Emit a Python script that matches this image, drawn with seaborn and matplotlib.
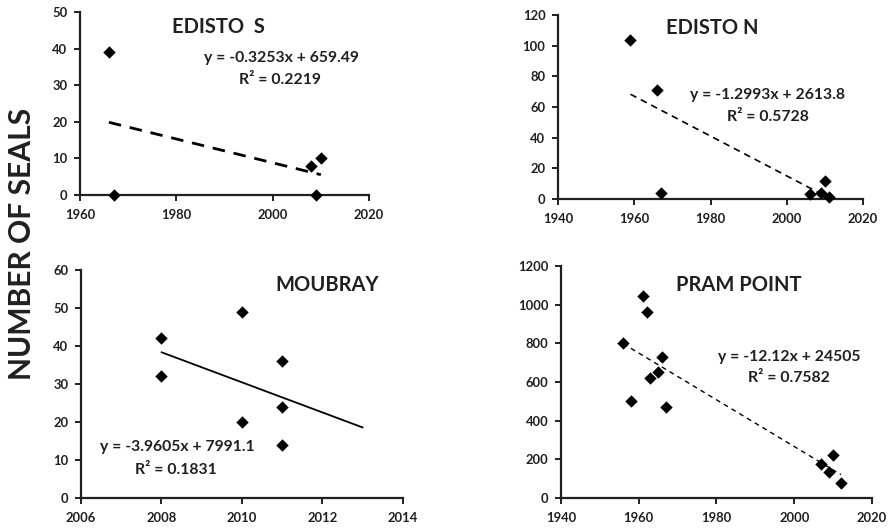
import numpy as np
import pandas as pd
import matplotlib
matplotlib.use("Agg")
import matplotlib.pyplot as plt
import seaborn as sns

# ---- data ----
edisto_s_year = [1966, 1967, 2008, 2009, 2010]
edisto_s_seals = [39, 0, 8, 0, 10]

edisto_n_year = [1959, 1966, 1967, 2006, 2009, 2010, 2011]
edisto_n_seals = [104, 71, 4, 3, 4, 12, 1]

moubray_year = [2008, 2008, 2010, 2010, 2011, 2011, 2011]
moubray_seals = [42, 32, 49, 20, 36, 24, 14]

pram_year = [1956, 1958, 1961, 1962, 1963, 1965, 1966, 1967, 2007, 2009, 2010, 2012]
pram_seals = [800, 500, 1045, 960, 620, 650, 730, 470, 175, 135, 220, 80]

titles = ["EDISTO  S", "EDISTO N", "MOUBRAY", "PRAM POINT"]
equations = ["y = -0.3253x + 659.49", "y = -1.2993x + 2613.8",
             "y = -3.9605x + 7991.1", "y = -12.12x + 24505"]
r2_labels = ["R² = 0.2219", "R² = 0.5728", "R² = 0.1831", "R² = 0.7582"]
moubray_forecast_end = 2013

sns.set_theme(style="white")
plt.rcParams['font.family'] = ['Lato', 'DejaVu Sans']
plt.rcParams['font.weight'] = 'bold'

TXT = '#231f20'
fig = plt.figure(figsize=(8.9, 5.29), dpi=100)

panels = [
    dict(x=edisto_s_year, y=edisto_s_seals, rect=[0.0899, 0.6314, 0.3247, 0.3459],
         xlim=(1960, 2020), xt=[1960, 1980, 2000, 2020], ylim=(0, 50), yt=[0, 10, 20, 30, 40, 50],
         ls=(0, (4.5, 3.2)), lw=2.0, xend=None,
         title_xy=(218, 27), eq_xy=(281, 58), r2_xy=(280, 80)),
    dict(x=edisto_n_year, y=edisto_n_seals, rect=[0.627, 0.6238, 0.3427, 0.3478],
         xlim=(1940, 2020), xt=[1940, 1960, 1980, 2000, 2020], ylim=(0, 120), yt=[0, 20, 40, 60, 80, 100, 120],
         ls=(0, (4, 3)), lw=1.2, xend=None,
         title_xy=(712, 28), eq_xy=(768, 95), r2_xy=(768, 117)),
    dict(x=moubray_year, y=moubray_seals, rect=[0.091, 0.0586, 0.3618, 0.431],
         xlim=(2006, 2014), xt=[2006, 2008, 2010, 2012, 2014], ylim=(0, 60), yt=[0, 10, 20, 30, 40, 50, 60],
         ls='-', lw=1.3, xend=moubray_forecast_end,
         title_xy=(327, 285), eq_xy=(177, 447), r2_xy=(176, 470)),
    dict(x=pram_year, y=pram_seals, rect=[0.6303, 0.0586, 0.3495, 0.4386],
         xlim=(1940, 2020), xt=[1940, 1960, 1980, 2000, 2020], ylim=(0, 1200), yt=[0, 200, 400, 600, 800, 1000, 1200],
         ls=(0, (3.5, 3)), lw=1.0, xend=None,
         title_xy=(739, 285), eq_xy=(789, 357), r2_xy=(789, 378)),
]

W, H = 890, 529
for i, p in enumerate(panels):
    ax = fig.add_axes(p['rect'])
    df = pd.DataFrame({'year': p['x'], 'seals': p['y']})
    # trend line (least squares fit of the data)
    m, b = np.polyfit(df['year'], df['seals'], 1)
    x0 = df['year'].min()
    x1 = p['xend'] if p['xend'] is not None else df['year'].max()
    xs = np.array([x0, x1])
    ax.plot(xs, m * xs + b, color='black', linestyle=p['ls'], linewidth=p['lw'], zorder=2)
    sns.scatterplot(data=df, x='year', y='seals', marker='D', s=40, color='black',
                    edgecolor='black', linewidth=0, ax=ax, zorder=3, clip_on=False)
    ax.set_xlim(*p['xlim'])
    ax.set_ylim(*p['ylim'])
    ax.set_xticks(p['xt'])
    ax.set_yticks(p['yt'])
    ax.set_xlabel('')
    ax.set_ylabel('')
    for s in ['top', 'right']:
        ax.spines[s].set_visible(False)
    for s in ['left', 'bottom']:
        ax.spines[s].set_linewidth(1.6)
        ax.spines[s].set_color('#231f20')
    ax.tick_params(axis='both', direction='out', length=4, width=1.4, color='#231f20',
                   labelsize=9.4, labelcolor=TXT, left=True, bottom=True)
    ax.tick_params(axis='x', pad=6)
    ax.tick_params(axis='y', pad=5)
    for lab in ax.get_xticklabels() + ax.get_yticklabels():
        lab.set_fontweight('bold')
    tx, ty = p['title_xy']
    fig.text(tx / W, 1 - ty / H, titles[i], ha='center', va='center', fontsize=14.5,
             fontweight='bold', color=TXT)
    ex, ey = p['eq_xy']
    fig.text(ex / W, 1 - ey / H, equations[i], ha='center', va='center', fontsize=11.3,
             fontweight='bold', color=TXT)
    rx, ry = p['r2_xy']
    fig.text(rx / W, 1 - ry / H, r2_labels[i], ha='center', va='center', fontsize=11.3,
             fontweight='bold', color=TXT)

fig.text(22 / W, 1 - 244 / H, 'NUMBER OF SEALS', rotation=90, ha='center', va='center',
         fontsize=21.6, fontweight='bold', color=TXT)

fig.savefig('out.png', dpi=100)
